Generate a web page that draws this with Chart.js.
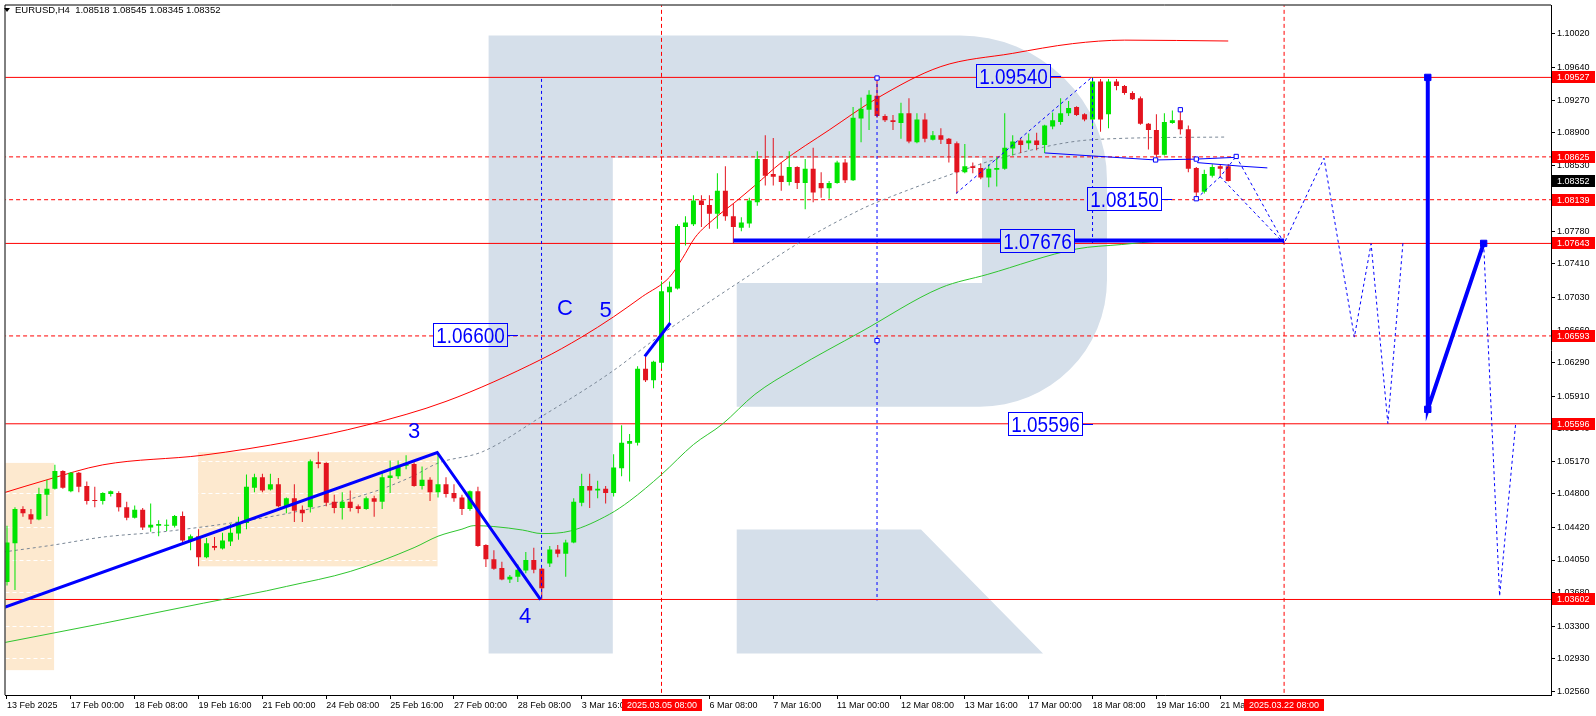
<!DOCTYPE html>
<html>
<head>
<meta charset="utf-8">
<title>EURUSD H4</title>
<script src="https://cdn.jsdelivr.net/npm/chart.js"></script>
<style>
  html, body { margin: 0; padding: 0; background: #fff; }
  #wrap { width: 1596px; height: 716px; }
</style>
</head>
<body>
<div id="wrap"><canvas id="chart" width="1596" height="716"></canvas></div>
<script>
// EURUSD H4, bar 0 = 13 Feb 2025 16:00, last bar (153) = 21 Mar 04:00
const openP = [
  1.0380,1.0424,1.0463,1.0457,1.0451,1.0479,1.0486,1.0506,1.0483,1.0504,
  1.0489,1.0473,1.0472,1.0480,1.0481,1.0465,1.0453,1.0462,1.0442,1.0444,
  1.0444,1.0444,1.0455,1.0427,1.0432,1.0408,1.0421,1.0418,1.0426,1.0435,
  1.0447,1.0487,1.0499,1.0485,1.0491,1.0466,1.0475,1.0462,1.0465,1.0516,
  1.0515,1.0471,1.0464,1.0471,1.0466,1.0463,1.0475,1.0471,1.0498,1.0500,
  1.0512,1.0514,1.0489,1.0496,1.0482,1.0491,1.0481,1.0476,1.0463,1.0483,
  1.0422,1.0406,1.0396,1.0383,1.0386,1.0393,1.0405,1.0395,1.0401,1.0417,
  1.0412,1.0425,1.0470,1.0489,1.0484,1.0486,1.0481,1.0509,1.0537,1.0538,
  1.0622,1.0609,1.0629,1.0709,1.0713,1.0783,1.0786,1.0813,1.0808,1.0798,
  1.0824,1.0795,1.0782,1.0787,1.0811,1.0860,1.0843,1.0841,1.0834,1.0851,
  1.0833,1.0849,1.0833,1.0827,1.0833,1.0856,1.0836,1.0906,1.0916,1.0932,
  1.0909,1.0904,1.0901,1.0912,1.0879,1.0905,1.0882,1.0887,1.0883,1.0878,
  1.0845,1.0852,1.0850,1.0839,1.0848,1.0849,1.0872,1.0881,1.0878,1.0881,
  1.0876,1.0897,1.0902,1.0912,1.0919,1.0911,1.0905,1.0948,1.0911,1.0948,
  1.0943,1.0935,1.0929,1.0900,1.0893,1.0865,1.0901,1.0904,1.0894,1.0850,
  1.0823,1.0841,1.0852,1.08518
];
const highP = [
  1.0444,1.0465,1.0466,1.0463,1.0487,1.0496,1.0513,1.0507,1.0505,1.0505,
  1.0494,1.0488,1.0482,1.0484,1.0483,1.0471,1.0467,1.0464,1.0469,1.0450,
  1.0451,1.0456,1.0460,1.0434,1.0440,1.0430,1.0431,1.0436,1.0446,1.0454,
  1.0502,1.0503,1.0503,1.0503,1.0498,1.0476,1.0491,1.0467,1.0519,1.0528,
  1.0516,1.0479,1.0482,1.0484,1.0468,1.0477,1.0478,1.0506,1.0518,1.0518,
  1.0524,1.0516,1.0511,1.0499,1.0527,1.0499,1.0491,1.0479,1.0484,1.0488,
  1.0423,1.0416,1.0403,1.0388,1.0400,1.0414,1.0419,1.0396,1.0421,1.0422,
  1.0428,1.0475,1.0503,1.0503,1.0495,1.0489,1.0525,1.0558,1.0548,1.0625,
  1.0636,1.0631,1.0721,1.0721,1.0786,1.0795,1.0819,1.0819,1.0819,1.0844,
  1.0852,1.0809,1.0794,1.0816,1.0869,1.0887,1.0884,1.0856,1.0869,1.0852,
  1.0860,1.0873,1.0845,1.0835,1.0858,1.0860,1.0919,1.0930,1.0938,1.0952,
  1.0911,1.0910,1.0924,1.0929,1.0912,1.0912,1.0892,1.0895,1.0884,1.0880,
  1.0877,1.0856,1.0855,1.0854,1.0862,1.0912,1.0887,1.0884,1.0889,1.0890,
  1.0899,1.0913,1.0929,1.0926,1.0920,1.0912,1.0953,1.0951,1.0951,1.0951,
  1.0944,1.0937,1.0931,1.0901,1.0911,1.0912,1.0915,1.0916,1.0898,1.0851,
  1.0848,1.0854,1.0854,1.08545
];
const lowP = [
  1.0376,1.0371,1.0454,1.0446,1.0450,1.0455,1.0485,1.0486,1.0482,1.0482,
  1.0468,1.0465,1.0468,1.0477,1.0460,1.0450,1.0452,1.0439,1.0437,1.0432,
  1.0438,1.0442,1.0425,1.0416,1.0398,1.0407,1.0416,1.0417,1.0421,1.0428,
  1.0440,1.0482,1.0482,1.0484,1.0465,1.0458,1.0448,1.0448,1.0459,1.0509,
  1.0466,1.0458,1.0451,1.0460,1.0458,1.0462,1.0454,1.0463,1.0481,1.0497,
  1.0508,1.0488,1.0485,1.0472,1.0476,1.0476,1.0471,1.0456,1.0461,1.0420,
  1.0397,1.0394,1.0382,1.0379,1.0380,1.0390,1.0390,1.0360,1.0397,1.0408,
  1.0386,1.0424,1.0466,1.0464,1.0475,1.0469,1.0477,1.0500,1.0494,1.0535,
  1.0607,1.0600,1.0622,1.0673,1.0712,1.0762,1.0784,1.0783,1.0781,1.0781,
  1.0790,1.0764,1.0778,1.0782,1.0807,1.0830,1.0830,1.0824,1.0830,1.0826,
  1.0803,1.0811,1.0816,1.0815,1.0832,1.0833,1.0835,1.0879,1.0893,1.0907,
  1.0902,1.0893,1.0883,1.0878,1.0878,1.0879,1.0881,1.0877,1.0856,1.0821,
  1.0844,1.0844,1.0837,1.0828,1.0829,1.0848,1.0864,1.0867,1.0871,1.0870,
  1.0867,1.0894,1.0899,1.0909,1.0909,1.0903,1.0895,1.0891,1.0895,1.0938,
  1.0933,1.0927,1.0899,1.0871,1.0860,1.0864,1.0900,1.0888,1.0845,1.0815,
  1.0821,1.0839,1.0839,1.08345
];
const closeP = [
  1.0425,1.0463,1.0458,1.0451,1.0480,1.0486,1.0506,1.0487,1.0504,1.0488,
  1.0472,1.0472,1.0481,1.0483,1.0465,1.0453,1.0462,1.0442,1.0445,1.0446,
  1.0445,1.0455,1.0427,1.0432,1.0408,1.0424,1.0419,1.0427,1.0436,1.0448,
  1.0488,1.0499,1.0484,1.0491,1.0466,1.0475,1.0461,1.0458,1.0517,1.0514,
  1.0470,1.0464,1.0471,1.0464,1.0463,1.0475,1.0471,1.0499,1.0501,1.0512,
  1.0515,1.0489,1.0496,1.0482,1.0491,1.0480,1.0475,1.0463,1.0483,1.0421,
  1.0406,1.0395,1.0383,1.0386,1.0394,1.0405,1.0394,1.0373,1.0417,1.0412,
  1.0425,1.0471,1.0489,1.0484,1.0486,1.0481,1.0510,1.0538,1.0540,1.0622,
  1.0609,1.0630,1.0710,1.0715,1.0784,1.0788,1.0813,1.0808,1.0798,1.0824,
  1.0795,1.0783,1.0788,1.0813,1.0860,1.0841,1.0840,1.0834,1.0851,1.0833,
  1.0849,1.0822,1.0827,1.0833,1.0856,1.0836,1.0907,1.0917,1.0933,1.0909,
  1.0904,1.0902,1.0912,1.0880,1.0905,1.0883,1.0887,1.0882,1.0877,1.0845,
  1.0852,1.0850,1.0839,1.0849,1.0850,1.0873,1.0880,1.0876,1.0881,1.0876,
  1.0898,1.0904,1.0912,1.0918,1.0910,1.0905,1.0948,1.0905,1.0948,1.0943,
  1.0935,1.0928,1.0900,1.0893,1.0865,1.0902,1.0904,1.0894,1.0849,1.0822,
  1.0843,1.0851,1.0849,1.08352
];

// moving averages, read at a few bars each
const maRedIdx = [-0.5, 5, 12, 24.6, 35.8, 45, 55, 67, 72, 76, 79.6, 83, 84.6, 86.2, 88.7, 91.2, 93.7, 97, 103, 109, 117, 126, 133.5, 140, 153];
const maRedVal = [1.0481, 1.0496, 1.0513, 1.0524, 1.0540, 1.0558, 1.0585, 1.0633, 1.0658, 1.0681, 1.0704, 1.0726, 1.0747, 1.0771, 1.0793, 1.0811, 1.0830, 1.0856, 1.0893, 1.0929, 1.0965, 1.0980, 1.0991, 1.0995, 1.0994];
const maGreenIdx = [-0.5, 12, 24.6, 32.5, 35, 43, 51, 54, 57, 58.5, 61, 64.6, 67, 70.6, 75.5, 78, 82, 86, 89.6, 93.7, 98.7, 107, 117, 122.8, 134, 139.6, 144.6, 153];
const maGreenVal = [1.0311, 1.0333, 1.0356, 1.0370, 1.0375, 1.0392, 1.0419, 1.0432, 1.0440, 1.0444, 1.0443, 1.0439, 1.0435, 1.0438, 1.0457, 1.0472, 1.0502, 1.0536, 1.0559, 1.0593, 1.0622, 1.0664, 1.0714, 1.0729, 1.0758, 1.0763, 1.0767, 1.0769];
const maGrayIdx = [-0.5, 5.8, 12, 20.5, 35.8, 45.8, 50.8, 54, 59.6, 67, 75.5, 82, 88, 93, 98.7, 107, 109, 119, 124, 136, 152.5];
const maGrayVal = [1.0414, 1.0422, 1.0431, 1.0438, 1.0459, 1.0482, 1.0500, 1.0515, 1.0528, 1.0568, 1.0617, 1.0661, 1.0698, 1.0728, 1.0762, 1.0803, 1.0811, 1.0845, 1.0860, 1.0882, 1.0885];

// axes
const timeTickIdx = [0, 8, 16, 24, 32, 40, 48, 56, 64, 72, 88, 96, 104, 112, 120, 128, 136, 144, 152];
const timeTickText = ['13 Feb 2025', '17 Feb 00:00', '18 Feb 08:00', '19 Feb 16:00', '21 Feb 00:00', '24 Feb 08:00', '25 Feb 16:00', '27 Feb 00:00', '28 Feb 08:00', '3 Mar 16:00', '6 Mar 08:00', '7 Mar 16:00', '11 Mar 00:00', '12 Mar 08:00', '13 Mar 16:00', '17 Mar 00:00', '18 Mar 08:00', '19 Mar 16:00', '21 Mar 00:00'];
const markIdx = [82, 160];
const markText = ['2025.03.05 08:00', '2025.03.22 08:00'];
const priceTicks = [1.10020, 1.09640, 1.09270, 1.08900, 1.08530, 1.08150, 1.07780, 1.07410, 1.07030, 1.06660, 1.06290, 1.05910, 1.05540, 1.05170, 1.04800, 1.04420, 1.04050, 1.03680, 1.03300, 1.02930, 1.02560];

// levels
const solidLevels = [1.09527, 1.07643, 1.05596, 1.03602];
const dashLevels = [1.08625, 1.08139, 1.06593];
const lastPrice = 1.08352;

// shaded time zones
const zoneFrom = [-2, 23.94];
const zoneTo = [5.9, 53.94];
const zoneHigh = [1.05152, 1.05273];
const zoneLow = [1.02800, 1.03978];

// analyst drawings (bar index / price)
const waveIdx = [-0.44, 53.9, 66.85];
const wavePx = [1.0351, 1.0527, 1.0360];
const leg5Idx = [79.9, 83.1];
const leg5Px = [1.0636, 1.0674];
const supportIdx = [91, 160];
const supportPx = [1.07676, 1.07676];
const targetIdx = [178, 178, 185];
const targetPx = [1.09527, 1.0576, 1.07643];
const pathIdx = [154, 160, 165, 168.8, 170.9, 173, 174.9];
const pathPx = [1.0863, 1.07643, 1.0861, 1.0658, 1.0764, 1.0560, 1.0766];
const pathEndIdx = [185, 187, 189];
const pathEndPx = [1.07643, 1.0364, 1.0559];
const zigIdx = [149, 152, 154];
const zigPx = [1.0815, 1.0840, 1.0863];
const zig2Idx = [152, 160];
const zig2Px = [1.0840, 1.07643];
const chanIdx = [130, 143.9, 149, 154];
const chanPx = [1.0867, 1.0859, 1.0860, 1.0862];
const chan2Idx = [149.1, 154.5, 157.9];
const chan2Px = [1.0856, 1.0852, 1.0850];
const diagIdx = [118.9, 135.8];
const diagPx = [1.0821, 1.0952];
const vertIdx = [66.97, 109, 136];
const vertTop = [1.0951, 1.0952, 1.0952];
const vertBottom = [1.0360, 1.0359, 1.0764];
const hollowIdx = [109, 109, 143.9, 149, 149, 147, 154];
const hollowPx = [1.0952, 1.0654, 1.0859, 1.0860, 1.0815, 1.0916, 1.0863];

// text notes
const boxText = ['1.09540', '1.08150', '1.07676', '1.05596', '1.06600'];
const boxIdx = [132.06, 146.0, 135.1, 136.06, 64.06];
const boxPrice = [1.09540, 1.08150, 1.07676, 1.05596, 1.06600];
const waveText = ['3', '4', 'C', '5'];
const waveTxtIdx = [51.0, 64.9, 69.9, 75.0];
const waveTxtPx = [1.0551, 1.0341, 1.0691, 1.0689];

const UP = '#00e400', DOWN = '#e3141f', RED = '#ff0000', BLUE = '#0000ff';
const LOGO = '#d5dfea', ZONE = '#fde9cf';
const FONT = '"Liberation Sans", Arial, sans-serif';
const X_MIN = -0.1875, X_MAX = 193.4375;
const Y_MIN = 1.02518, Y_MAX = 1.10343;

const pts = (xs, ys) => xs.map((v, k) => ({ x: v, y: ys[k] }));

function lineSet(data, color, width, dash, order, extra) {
  return Object.assign({
    type: 'line', data: data, borderColor: color, borderWidth: width,
    borderDash: dash, pointRadius: 0, fill: false, tension: 0, order: order
  }, extra || {});
}

function drawLogo(ctx) {
  ctx.fillStyle = LOGO;
  ctx.beginPath();
  ctx.moveTo(488.6, 35.6);
  ctx.lineTo(960, 35.6);
  ctx.ellipse(960, 180, 147, 144.4, 0, -Math.PI / 2, 0);
  ctx.lineTo(1107, 280);
  ctx.ellipse(980, 280, 127, 126.7, 0, 0, Math.PI / 2);
  ctx.lineTo(736.7, 406.7);
  ctx.lineTo(736.7, 283);
  ctx.lineTo(982, 283);
  ctx.lineTo(982, 158);
  ctx.lineTo(612.8, 158);
  ctx.lineTo(612.8, 653.6);
  ctx.lineTo(488.6, 653.6);
  ctx.closePath();
  ctx.moveTo(736.7, 529.5);
  ctx.lineTo(921, 529.5);
  ctx.lineTo(1043, 653.6);
  ctx.lineTo(736.7, 653.6);
  ctx.closePath();
  ctx.fill();
}

const backdrop = {
  id: 'backdrop',
  beforeDraw(chart) {
    const { ctx, chartArea: a, scales: { x, y } } = chart;
    ctx.save();
    ctx.fillStyle = '#fff';
    ctx.fillRect(0, 0, chart.width, chart.height);
    ctx.beginPath();
    ctx.rect(a.left, a.top, a.right - a.left, a.bottom - a.top);
    ctx.clip();
    ctx.fillStyle = ZONE;
    zoneFrom.forEach((f, k) => {
      const x1 = x.getPixelForValue(f), x2 = x.getPixelForValue(zoneTo[k]);
      const y1 = y.getPixelForValue(zoneHigh[k]), y2 = y.getPixelForValue(zoneLow[k]);
      ctx.fillRect(x1, y1, x2 - x1, y2 - y1);
    });
    ctx.restore();
  },
  beforeDatasetsDraw(chart) {
    const { ctx, chartArea: a } = chart;
    ctx.save();
    ctx.beginPath();
    ctx.rect(a.left, a.top, a.right - a.left, a.bottom - a.top);
    ctx.clip();
    drawLogo(ctx);
    ctx.restore();
  }
};

const overlay = {
  id: 'overlay',
  afterDatasetsDraw(chart) {
    const { ctx, chartArea: a, scales: { x, y } } = chart;
    ctx.save();
    ctx.beginPath();
    ctx.rect(a.left, a.top, a.right - a.left, a.bottom - a.top);
    ctx.clip();
    boxText.forEach((t, k) => {
      const ax = Math.round(x.getPixelForValue(boxIdx[k]));
      const ay = Math.round(y.getPixelForValue(boxPrice[k]));
      const right = ax - 11, left = right - 74, top = ay - 12;
      ctx.save();
      ctx.beginPath();
      ctx.rect(left, top, 74, 23);
      ctx.clip();
      ctx.fillStyle = '#fff';
      ctx.fillRect(left, top, 74, 23);
      drawLogo(ctx);
      ctx.restore();
      ctx.strokeStyle = BLUE;
      ctx.lineWidth = 1;
      ctx.strokeRect(left + 0.5, top + 0.5, 74, 23);
      ctx.beginPath();
      ctx.moveTo(right + 1, ay + 0.5);
      ctx.lineTo(ax, ay + 0.5);
      ctx.stroke();
      ctx.save();
      ctx.translate(left + 37.5, top + 12.5);
      ctx.scale(0.86, 1);
      ctx.fillStyle = BLUE;
      ctx.font = '22px ' + FONT;
      ctx.textAlign = 'center';
      ctx.textBaseline = 'middle';
      ctx.fillText(t, 0, 1);
      ctx.restore();
    });
    ctx.fillStyle = BLUE;
    ctx.font = '22px ' + FONT;
    ctx.textAlign = 'center';
    ctx.textBaseline = 'middle';
    waveText.forEach((t, k) => {
      ctx.fillText(t, x.getPixelForValue(waveTxtIdx[k]), y.getPixelForValue(waveTxtPx[k]) + 1);
    });
    ctx.restore();
  },
  afterDraw(chart) {
    const { ctx, chartArea: a, scales: { x, y } } = chart;
    ctx.save();
    ctx.strokeStyle = '#000';
    ctx.lineWidth = 1;
    ctx.beginPath();
    ctx.moveTo(a.left - 0.5, a.bottom);
    ctx.lineTo(a.left - 0.5, a.top - 0.5);
    ctx.lineTo(a.right, a.top - 0.5);
    ctx.stroke();

    // symbol header
    ctx.fillStyle = '#000';
    ctx.beginPath();
    ctx.moveTo(4, 8);
    ctx.lineTo(10, 8);
    ctx.lineTo(7, 12);
    ctx.closePath();
    ctx.fill();
    ctx.font = '9.5px ' + FONT;
    ctx.textAlign = 'left';
    ctx.textBaseline = 'middle';
    ctx.fillText('EURUSD,H4  1.08518 1.08545 1.08345 1.08352', 15, 10.5);

    // price tags on the right axis
    ctx.font = '9px ' + FONT;
    const tags = solidLevels.concat(dashLevels);
    tags.forEach(p => {
      const py = Math.round(y.getPixelForValue(p));
      ctx.fillStyle = RED;
      ctx.fillRect(a.right + 1, py - 6, 43, 12);
      ctx.fillStyle = '#fff';
      ctx.fillText(p.toFixed(5), a.right + 6, py + 0.5);
    });
    const ly = Math.round(y.getPixelForValue(lastPrice));
    ctx.fillStyle = '#000';
    ctx.fillRect(a.right + 1, ly - 6, 43, 12);
    ctx.fillStyle = '#fff';
    ctx.fillText(lastPrice.toFixed(5), a.right + 6, ly + 0.5);

    // time tags
    ctx.textAlign = 'center';
    markIdx.forEach((i, k) => {
      const px = Math.round(x.getPixelForValue(i));
      ctx.fillStyle = RED;
      ctx.fillRect(px - 40, a.bottom + 4, 80, 12);
      ctx.fillStyle = '#fff';
      ctx.fillText(markText[k], px, a.bottom + 10.5);
    });
    ctx.restore();
  }
};

const datasets = [];
// candles
datasets.push({
  type: 'bar', label: 'body',
  data: openP.map((o, i) => ({ x: i, y: [o, closeP[i]] })),
  backgroundColor: openP.map((o, i) => closeP[i] >= o ? UP : DOWN),
  barThickness: 5, grouped: false, minBarLength: 1, borderWidth: 0, inflateAmount: 0, order: 11
});
datasets.push({
  type: 'bar', label: 'wick',
  data: openP.map((o, i) => ({ x: i, y: [lowP[i], highP[i]] })),
  backgroundColor: openP.map((o, i) => closeP[i] >= o ? UP : DOWN),
  barThickness: 1, grouped: false, minBarLength: 1, borderWidth: 0, inflateAmount: 0, order: 12
});
// levels
solidLevels.forEach(p => datasets.push(lineSet(pts([-5, 200], [p, p]), RED, 1, [], 20)));
dashLevels.forEach(p => datasets.push(lineSet(pts([-5, 200], [p, p]), RED, 1, [4, 3], 20)));
markIdx.forEach(i => datasets.push(lineSet(pts([i, i], [1.0, 1.2]), RED, 1, [4, 3], 20)));
// moving averages
datasets.push(lineSet(pts(maRedIdx, maRedVal), RED, 1, [], 15, { cubicInterpolationMode: 'monotone' }));
datasets.push(lineSet(pts(maGreenIdx, maGreenVal), '#2fc52f', 1, [], 15, { cubicInterpolationMode: 'monotone' }));
datasets.push(lineSet(pts(maGrayIdx, maGrayVal), '#7a8796', 1, [3, 3], 15, { cubicInterpolationMode: 'monotone' }));
// drawings
datasets.push(lineSet(pts(waveIdx, wavePx), BLUE, 3, [], 5));
datasets.push(lineSet(pts(leg5Idx, leg5Px), BLUE, 3, [], 5));
datasets.push(lineSet(pts(supportIdx, supportPx), BLUE, 4, [], 5));
datasets.push(lineSet(pts(targetIdx, targetPx), BLUE, 4, [], 5));
datasets.push(lineSet(pts(pathIdx, pathPx), BLUE, 1, [3, 3], 5));
datasets.push(lineSet(pts(pathEndIdx, pathEndPx), BLUE, 1, [3, 3], 5));
datasets.push(lineSet(pts(zigIdx, zigPx), BLUE, 1, [3, 3], 5));
datasets.push(lineSet(pts(zig2Idx, zig2Px), BLUE, 1, [3, 3], 5));
datasets.push(lineSet(pts(diagIdx, diagPx), BLUE, 1, [3, 3], 5));
datasets.push(lineSet(pts(chanIdx, chanPx), BLUE, 1, [], 5));
datasets.push(lineSet(pts(chan2Idx, chan2Px), BLUE, 1, [], 5));
vertIdx.forEach((i, k) => datasets.push(lineSet(pts([i, i], [vertTop[k], vertBottom[k]]), BLUE, 1, [3, 3], 5)));
datasets.push(lineSet(pts(targetIdx, targetPx), BLUE, 0, [], 3, {
  showLine: false, pointRadius: 4.5, pointStyle: 'rect', pointBackgroundColor: BLUE, pointBorderColor: BLUE, pointBorderWidth: 1
}));
datasets.push(lineSet(pts(hollowIdx, hollowPx), BLUE, 0, [], 3, {
  showLine: false, pointRadius: 3, pointStyle: 'rect', pointBackgroundColor: '#fff', pointBorderColor: BLUE, pointBorderWidth: 1
}));

Chart.defaults.font.family = FONT;
Chart.defaults.font.size = 9;
Chart.defaults.color = '#000';

new Chart(document.getElementById('chart'), {
  type: 'bar',
  data: { datasets: datasets },
  options: {
    responsive: false,
    animation: false,
    events: [],
    layout: { padding: { left: 2, top: 2, right: 0, bottom: 0 } },
    plugins: { legend: { display: false }, tooltip: { enabled: false } },
    scales: {
      x: {
        type: 'linear', min: X_MIN, max: X_MAX, offset: false,
        grid: { drawOnChartArea: false, offset: false, color: '#000', tickColor: '#000', tickLength: 4 },
        border: { color: '#000' },
        afterBuildTicks: s => { s.ticks = timeTickIdx.map(v => ({ value: v })); },
        afterFit: s => { s.height = 21; s.paddingLeft = 0; s.paddingRight = 0; },
        ticks: {
          autoSkip: false, maxRotation: 0, minRotation: 0, align: 'start', padding: 1,
          callback: v => { const k = timeTickIdx.indexOf(v); return k >= 0 ? timeTickText[k] : ''; }
        }
      },
      y: {
        position: 'right', min: Y_MIN, max: Y_MAX,
        grid: { color: '#ffffff', tickColor: '#000', tickLength: 4 },
        border: { color: '#000', dash: [4, 3] },
        afterBuildTicks: s => { s.ticks = priceTicks.map(v => ({ value: v })); },
        afterFit: s => { s.width = 45; s.paddingTop = 0; s.paddingBottom = 0; },
        ticks: { autoSkip: false, padding: 2, callback: v => v.toFixed(5) }
      }
    }
  },
  plugins: [backdrop, overlay]
});
</script>
</body>
</html>
